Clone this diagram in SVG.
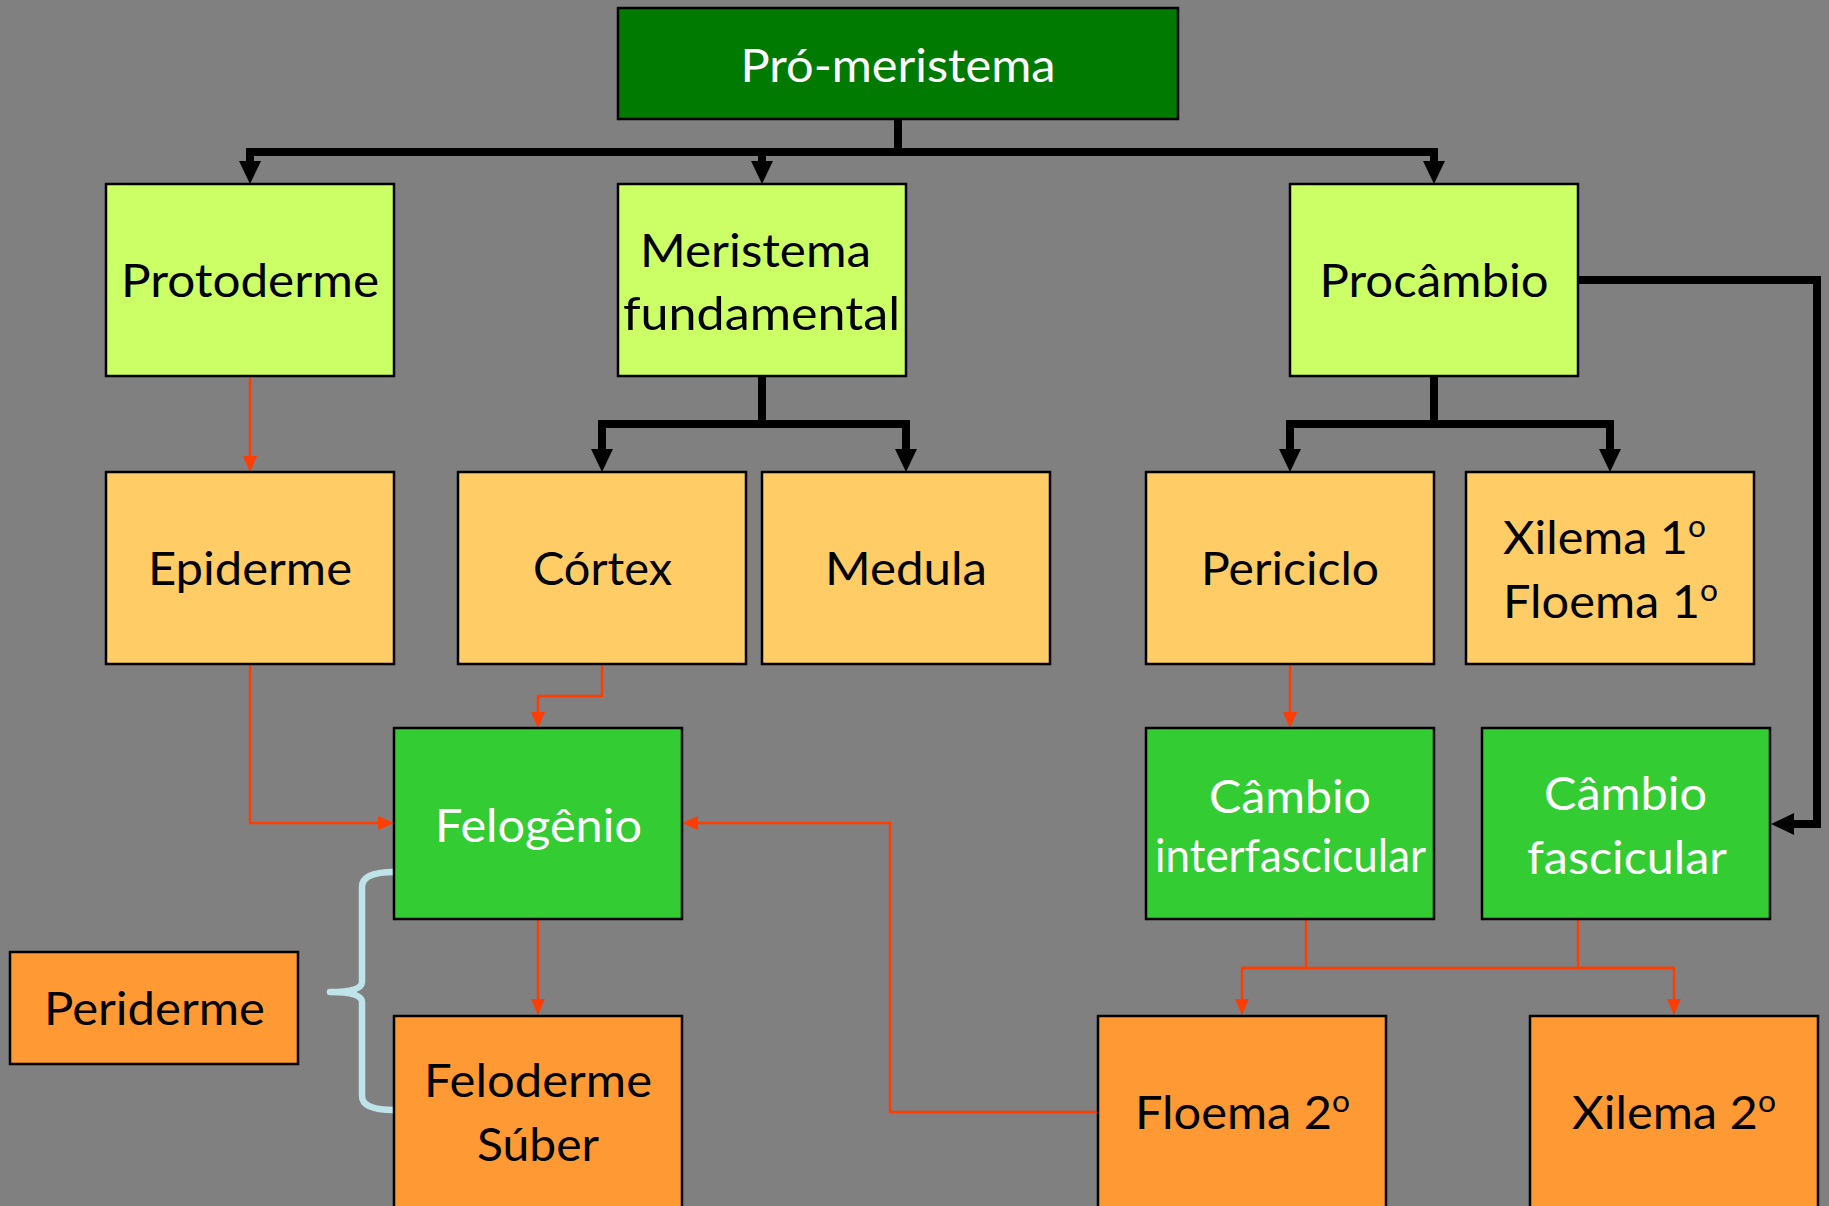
<svg xmlns="http://www.w3.org/2000/svg" width="1829" height="1206" viewBox="0 0 1829 1206">
<style>
.box{stroke:#000;stroke-width:2.5}
.dg{fill:#007A00}
.lg{fill:#CCFF66}
.yo{fill:#FFCC66}
.bg{fill:#33CC33}
.or{fill:#FF9933}
text{font-family:Lato,"Open Sans","Noto Sans",sans-serif;font-size:46px;fill:#000;text-anchor:middle}
text.w{fill:#fff}
text.s{text-anchor:start}
.blk{fill:none;stroke:#000;stroke-width:8;stroke-linejoin:miter}
.red{fill:none;stroke:#FF3D00;stroke-width:2.5}
.brace{fill:none;stroke:#BEE3E8;stroke-width:6.5;stroke-linecap:round;stroke-linejoin:round}
</style>
<defs>
<marker id="ab" markerUnits="userSpaceOnUse" markerWidth="23" markerHeight="22" refX="0" refY="11" orient="auto" viewBox="0 0 23 22">
<path d="M0,0 L23,11 L0,22 z" fill="#000"/>
</marker>
<marker id="ar" markerUnits="userSpaceOnUse" markerWidth="16" markerHeight="14" refX="0" refY="7" orient="auto" viewBox="0 0 16 14">
<path d="M0,0 L16,7 L0,14 z" fill="#FF3D00"/>
</marker>
</defs>
<rect width="1829" height="1206" fill="#808080"/>

<g id="connectors">
<path class="blk" d="M898,119 V152 H250 V161" marker-end="url(#ab)"/>
<path class="blk" d="M898,152 H762 V161" marker-end="url(#ab)"/>
<path class="blk" d="M898,152 H1434 V161" marker-end="url(#ab)"/>
<path class="blk" d="M762,376 V424 H602 V449" marker-end="url(#ab)"/>
<path class="blk" d="M762,424 H906 V449" marker-end="url(#ab)"/>
<path class="blk" d="M1434,376 V424 H1290 V449" marker-end="url(#ab)"/>
<path class="blk" d="M1434,424 H1610 V449" marker-end="url(#ab)"/>
<path class="blk" d="M1578,280 H1817 V824 H1794" marker-end="url(#ab)"/>
<path class="red" d="M250,376 V456" marker-end="url(#ar)"/>
<path class="red" d="M602,664 V696 H538 V712" marker-end="url(#ar)"/>
<path class="red" d="M250,664 V823 H378" marker-end="url(#ar)"/>
<path class="red" d="M538,919 V999" marker-end="url(#ar)"/>
<path class="red" d="M1098,1112 H890 V823 H698" marker-end="url(#ar)"/>
<path class="red" d="M1290,664 V712" marker-end="url(#ar)"/>
<path class="red" d="M1306,919 V968 H1242 V999" marker-end="url(#ar)"/>
<path class="red" d="M1578,919 V968 H1674 V999" marker-end="url(#ar)"/>
<path class="red" d="M1242,968 H1674"/>
<path class="brace" d="M394,872 Q362,872 362,887 V982 Q362,992 330,992 Q362,992 362,1002 V1096 Q362,1110 394,1110"/>
</g>

<g id="pro-meristema">
<rect class="box dg" x="618" y="8" width="560" height="111"/>
<text class="w" x="898" y="82" textLength="315" lengthAdjust="spacingAndGlyphs">Pró-meristema</text>
</g>
<g id="protoderme">
<rect class="box lg" x="106" y="184" width="288" height="192"/>
<text x="250" y="297" textLength="258" lengthAdjust="spacingAndGlyphs">Protoderme</text>
</g>
<g id="meristema-fundamental">
<rect class="box lg" x="618" y="184" width="288" height="192"/>
<text x="755.5" y="267" textLength="231" lengthAdjust="spacingAndGlyphs">Meristema</text>
<text x="761.5" y="330" textLength="277" lengthAdjust="spacingAndGlyphs">fundamental</text>
</g>
<g id="procambio">
<rect class="box lg" x="1290" y="184" width="288" height="192"/>
<text x="1434" y="297" textLength="229" lengthAdjust="spacingAndGlyphs">Procâmbio</text>
</g>
<g id="epiderme">
<rect class="box yo" x="106" y="472" width="288" height="192"/>
<text x="250" y="585" textLength="204" lengthAdjust="spacingAndGlyphs">Epiderme</text>
</g>
<g id="cortex">
<rect class="box yo" x="458" y="472" width="288" height="192"/>
<text x="602.5" y="585" textLength="139" lengthAdjust="spacingAndGlyphs">Córtex</text>
</g>
<g id="medula">
<rect class="box yo" x="762" y="472" width="288" height="192"/>
<text x="906" y="585" textLength="162" lengthAdjust="spacingAndGlyphs">Medula</text>
</g>
<g id="periciclo">
<rect class="box yo" x="1146" y="472" width="288" height="192"/>
<text x="1290" y="585" textLength="178" lengthAdjust="spacingAndGlyphs">Periciclo</text>
</g>
<g id="xilema-floema-1">
<rect class="box yo" x="1466" y="472" width="288" height="192"/>
<text class="s" x="1503" y="554" textLength="203" lengthAdjust="spacingAndGlyphs">Xilema 1<tspan font-size="30" dy="-17">o</tspan></text>
<text class="s" x="1503" y="618" textLength="215" lengthAdjust="spacingAndGlyphs">Floema 1<tspan font-size="30" dy="-17">o</tspan></text>
</g>
<g id="felogenio">
<rect class="box bg" x="394" y="728" width="288" height="191"/>
<text class="w" x="538.5" y="842" textLength="207" lengthAdjust="spacingAndGlyphs">Felogênio</text>
</g>
<g id="cambio-interfascicular">
<rect class="box bg" x="1146" y="728" width="288" height="191"/>
<text class="w" x="1290" y="813" textLength="162" lengthAdjust="spacingAndGlyphs">Câmbio</text>
<text class="w" x="1290.5" y="872" textLength="271" lengthAdjust="spacingAndGlyphs">interfascicular</text>
</g>
<g id="cambio-fascicular">
<rect class="box bg" x="1482" y="728" width="288" height="191"/>
<text class="w" x="1625.5" y="810" textLength="163" lengthAdjust="spacingAndGlyphs">Câmbio</text>
<text class="w" x="1627" y="874" textLength="200" lengthAdjust="spacingAndGlyphs">fascicular</text>
</g>
<g id="periderme">
<rect class="box or" x="10" y="952" width="288" height="112"/>
<text x="154.5" y="1025" textLength="221" lengthAdjust="spacingAndGlyphs">Periderme</text>
</g>
<g id="feloderme-suber">
<rect class="box or" x="394" y="1016" width="288" height="200"/>
<text x="538" y="1097" textLength="228" lengthAdjust="spacingAndGlyphs">Feloderme</text>
<text x="538" y="1161" textLength="122" lengthAdjust="spacingAndGlyphs">Súber</text>
</g>
<g id="floema-2">
<rect class="box or" x="1098" y="1016" width="288" height="200"/>
<text x="1242.5" y="1129" textLength="215" lengthAdjust="spacingAndGlyphs">Floema 2<tspan font-size="30" dy="-17">o</tspan></text>
</g>
<g id="xilema-2">
<rect class="box or" x="1530" y="1016" width="288" height="200"/>
<text x="1674" y="1129" textLength="204" lengthAdjust="spacingAndGlyphs">Xilema 2<tspan font-size="30" dy="-17">o</tspan></text>
</g>
</svg>
